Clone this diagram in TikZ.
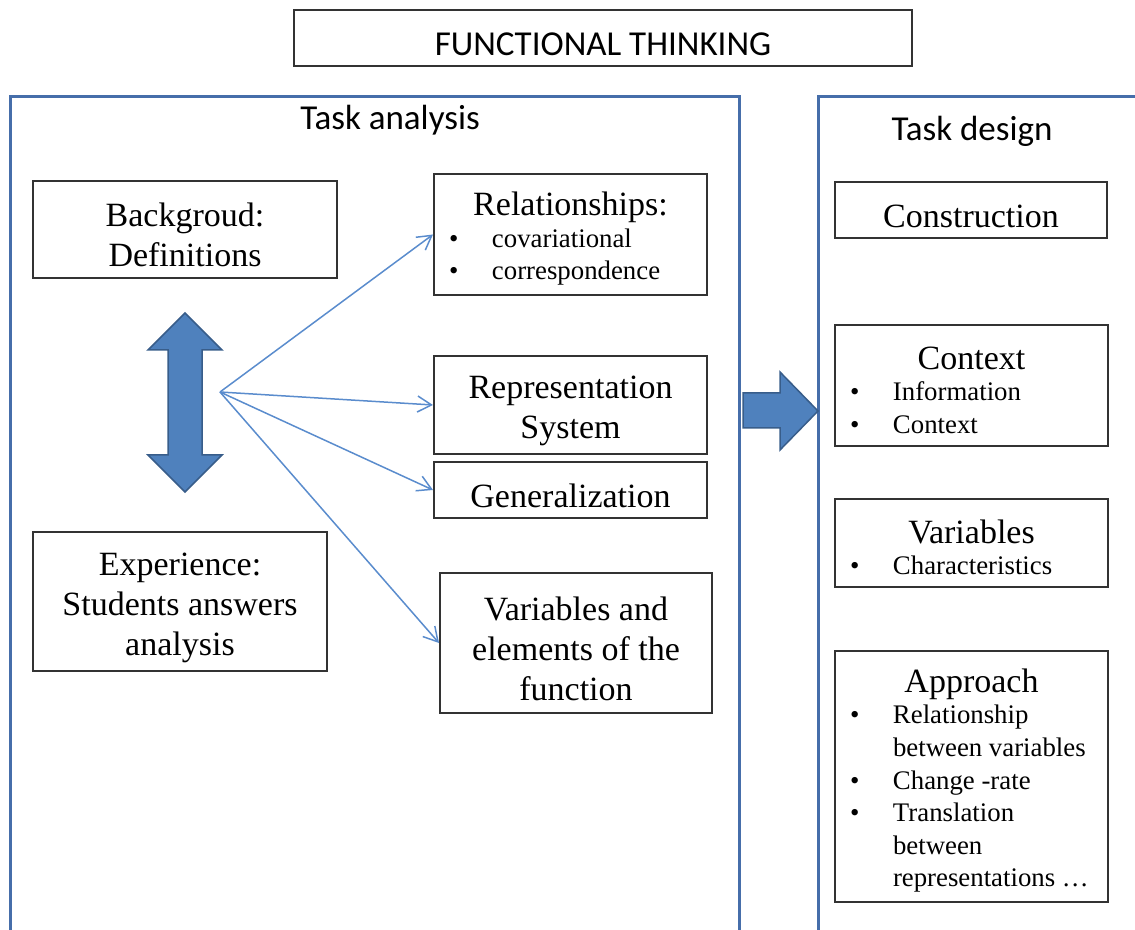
\documentclass[tikz,border=0pt]{standalone}
\usepackage{fontspec}
\setmainfont{Liberation Serif}
\setsansfont{Carlito}
\usetikzlibrary{arrows.meta,positioning}

\definecolor{panelblue}{RGB}{70,110,170}
\definecolor{fanblue}{RGB}{90,140,205}
\definecolor{blockblue}{RGB}{79,129,189}
\definecolor{blockline}{RGB}{56,93,138}

% taller first line pushes the text a little down in its box
\newcommand{\topstrut}{\rule{0pt}{17.5pt}}
% list lines: all of one width, so centred rows share a left edge
\newcommand{\itm}[1]{\makebox[121.5pt][l]{\makebox[21.5pt][l]{\textbullet}#1}}
\newcommand{\cnt}[1]{\makebox[121.5pt][l]{\hspace*{21.5pt}#1}}
\newcommand{\ttl}[1]{{\fontsize{17}{20}\selectfont\rule{0pt}{16pt}#1}}

\begin{document}
\begin{tikzpicture}[x=0.5pt,y=-0.5pt,>={Straight Barb[length=7pt,width=8pt]},
  box/.style={draw=black!80,line width=1pt,align=center,inner sep=0pt,
    font=\fontsize{17}{20}\selectfont},
  lst/.style={box,font=\fontsize{13.4}{16.3}\selectfont},
  panel/.style={draw=panelblue,line width=1.5pt},
  head/.style={font=\sffamily\fontsize{17.5}{21}\selectfont},
  fan/.style={->,fanblue,line width=0.75pt},
  blk/.style={fill=blockblue,draw=blockline,line width=0.75pt,line join=miter}]
\useasboundingbox (0,0) rectangle (1135,930);

% title and the two open panels
\node[box,font=\sffamily\fontsize{17.5}{21}\selectfont,minimum width=309pt,minimum height=28pt] (title) at (603,38) {\topstrut FUNCTIONAL THINKING};
\draw[panel] (10,940) -- (10,97) -- (739,97) -- (739,940);
\draw[panel] (818,940) -- (818,97) -- (1145,97);
\node[head] (ana) at (390,120) {Task analysis};
\node[head] (des) at (972,131) {Task design};

% left column
\node[box,minimum width=152pt,minimum height=48.5pt] (bg) at (185,229.5) {\topstrut Backgroud:\\Definitions};
\node[box,minimum width=147pt,minimum height=69.5pt] (exp) at (180,601.5) {\topstrut Experience:\\Students answers\\analysis};
\draw[blk] (185,313) -- (222,350) -- (202,350) -- (202,455) -- (222,455) -- (185,492)
  -- (148,455) -- (168,455) -- (168,350) -- (148,350) -- cycle;
\coordinate (fan) at (220,392);

% middle column
\node[lst,minimum width=136.5pt,minimum height=60.5pt] (rel) at (570.5,234.5) {\ttl{Relationships:}\\[-0.5pt] \itm{covariational}\\ \itm{correspondence}};
\node[box,minimum width=136.5pt,minimum height=49pt] (rep) at (570.5,405) {\topstrut Representation\\System};
\node[box,minimum width=136.5pt,minimum height=28pt] (gen) at (570.5,490) {\topstrut Generalization};
\node[box,minimum width=136pt,minimum height=70pt] (elem) at (576,643) {\topstrut Variables and\\elements of the\\function};
\foreach \b in {rel,rep,gen,elem}
  \draw[fan] (fan) -- (\b.west);

% arrow from analysis to design
\draw[blk] (743,393) -- (780,393) -- (780,372) -- (818,411) -- (780,450) -- (780,428) -- (743,428) -- cycle;

% right column
\node[box,minimum width=136pt,minimum height=28pt] (con) at (971,210) {\topstrut Construction};
\node[lst,minimum width=136.5pt,minimum height=60.5pt] (ctx) at (971.5,385.5) {\ttl{Context}\\[-0.5pt] \itm{Information}\\ \itm{Context}};
\node[lst,minimum width=136.5pt,minimum height=44pt] (var) at (971.5,543) {\ttl{Variables}\\[-0.5pt] \itm{Characteristics}};
\node[lst,minimum width=136.5pt,minimum height=125.5pt] (app) at (971.5,776.5) {\ttl{Approach}\\[-0.5pt] \itm{Relationship}\\ \cnt{between variables}\\ \itm{Change -rate}\\ \itm{Translation}\\ \cnt{between}\\ \cnt{representations \ldots}};
\end{tikzpicture}
\end{document}
